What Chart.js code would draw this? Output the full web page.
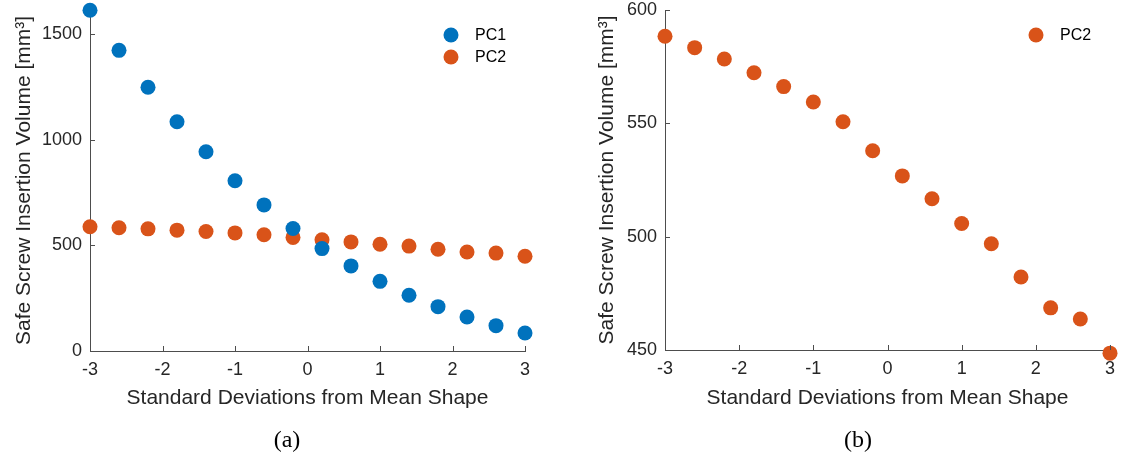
<!DOCTYPE html>
<html>
<head>
<meta charset="utf-8">
<script src="https://cdn.jsdelivr.net/npm/chart.js@4/dist/chart.umd.min.js"></script>
<style>
  html, body { margin: 0; padding: 0; background: #ffffff; }
  body { width: 1121px; height: 460px; position: relative; overflow: hidden; }
  .painel { position: absolute; top: 0; height: 460px; }
  .legenda-fig { position: absolute; top: 426px; font-family: "Liberation Serif", serif; font-size: 24px; color: #000; transform: translateX(-50%); }
</style>
</head>
<body>
<div class="painel" style="left:0; width:560px;"><canvas id="graficoA"></canvas></div>
<div class="painel" style="left:560px; width:561px;"><canvas id="graficoB"></canvas></div>
<div class="legenda-fig" style="left:287px;">(a)</div>
<div class="legenda-fig" style="left:858px;">(b)</div>

<script>
// desvios-padrão a partir da forma média
const desvios = [-3, -2.6, -2.2, -1.8, -1.4, -1, -0.6, -0.2, 0.2, 0.6, 1, 1.4, 1.8, 2.2, 2.6, 3];
// volume seguro de inserção do parafuso [mm³]
const volumePC1 = [1614, 1424, 1249, 1086, 944, 806, 692, 580, 485, 403, 330, 264, 210, 161, 120, 85];
const volumePC2 = [588.4, 583.4, 578.4, 572.3, 566.2, 559.4, 550.7, 537.9, 526.8, 516.7, 505.8, 496.9, 482.2, 468.6, 463.7, 448.6];

const ticksX = [-3, -2, -1, 0, 1, 2, 3];
const ticksYa = [0, 500, 1000, 1500];
const ticksYb = [450, 500, 550, 600];

const AZUL = '#0072BD';
const LARANJA = '#D95319';
const COR_TEXTO = '#262626';
const COR_EIXO = '#4d4d4d';
const FONTE = '"Liberation Sans", Arial, sans-serif';

const pontos = (valores) => desvios.map((x, i) => ({ x: x, y: valores[i] }));

// marcas de escala para dentro (estilo MATLAB)
const marcasInternas = {
    id: 'marcasInternas',
    afterDraw(chart) {
        const { ctx, chartArea } = chart;
        const sx = chart.scales.x, sy = chart.scales.y;
        ctx.save();
        ctx.strokeStyle = COR_EIXO;
        ctx.lineWidth = 1;
        ctx.beginPath();
        sx.ticks.forEach(t => {
            const px = Math.round(sx.getPixelForValue(t.value)) + 0.5;
            ctx.moveTo(px, chartArea.bottom);
            ctx.lineTo(px, chartArea.bottom - 5);
        });
        sy.ticks.forEach(t => {
            const py = Math.round(sy.getPixelForValue(t.value)) + 0.5;
            ctx.moveTo(chartArea.left, py);
            ctx.lineTo(chartArea.left + 5, py);
        });
        ctx.stroke();
        ctx.restore();
    }
};

// legenda dentro da área do gráfico, canto superior direito
const legendaInterna = {
    id: 'legendaInterna',
    afterDraw(chart, args, opts) {
        const { ctx, chartArea } = chart;
        ctx.save();
        ctx.font = '16px ' + FONTE;
        ctx.textBaseline = 'middle';
        ctx.textAlign = 'left';
        chart.data.datasets.forEach((ds, i) => {
            const cx = chartArea.right - opts.dx;
            const cy = chartArea.top + opts.dy + i * 22;
            ctx.fillStyle = ds.backgroundColor;
            ctx.beginPath();
            ctx.arc(cx, cy, 7.5, 0, Math.PI * 2);
            ctx.fill();
            ctx.fillStyle = '#000000';
            ctx.fillText(ds.label, cx + 24, cy + 1);
        });
        ctx.restore();
    }
};

function serie(label, valores, cor) {
    return {
        label: label,
        data: pontos(valores),
        backgroundColor: cor,
        borderColor: cor,
        borderWidth: 0,
        pointRadius: 7.5,
        pointHoverRadius: 7.5,
        showLine: false,
        clip: false
    };
}

function opcoes(yMin, yMax, ticksY, larguraY, padDireita, altX, padTituloY) {
    return {
        responsive: true,
        maintainAspectRatio: false,
        animation: false,
        layout: { padding: { top: 10, right: padDireita, bottom: 0, left: 0 } },
        plugins: {
            legend: { display: false },
            tooltip: { enabled: false },
            legendaInterna: { dx: 74, dy: 25 }
        },
        scales: {
            x: {
                type: 'linear',
                min: -3, max: 3,
                afterBuildTicks: (s) => { s.ticks = ticksX.map(v => ({ value: v })); },
                afterFit: (s) => { s.height = altX; s.paddingLeft = 0; s.paddingRight = 0; },
                grid: { display: false, drawTicks: false },
                border: { display: true, color: COR_EIXO, width: 1 },
                ticks: { color: COR_TEXTO, font: { family: FONTE, size: 18 }, padding: 8, maxRotation: 0,
                         callback: (v) => String(v) },
                title: { display: true, text: 'Standard Deviations from Mean Shape', color: COR_TEXTO,
                         font: { family: FONTE, size: 21 }, padding: { top: 0, bottom: 49 } }
            },
            y: {
                type: 'linear',
                min: yMin, max: yMax,
                afterBuildTicks: (s) => { s.ticks = ticksY.map(v => ({ value: v })); },
                afterFit: (s) => { s.width = larguraY; s.paddingTop = 0; s.paddingBottom = 0; },
                grid: { display: false, drawTicks: false },
                border: { display: true, color: COR_EIXO, width: 1 },
                ticks: { color: COR_TEXTO, font: { family: FONTE, size: 18 }, padding: 8,
                         callback: (v) => String(v) },
                title: { display: true, text: 'Safe Screw Insertion Volume [mm³]', color: COR_TEXTO,
                         font: { family: FONTE, size: 21 }, padding: { top: padTituloY, bottom: 0 } }
            }
        }
    };
}

new Chart(document.getElementById('graficoA'), {
    type: 'scatter',
    data: { datasets: [serie('PC1', volumePC1, AZUL), serie('PC2', volumePC2, LARANJA)] },
    options: opcoes(0, 1615, ticksYa, 90, 35, 109, 12),
    plugins: [marcasInternas, legendaInterna]
});

new Chart(document.getElementById('graficoB'), {
    type: 'scatter',
    data: { datasets: [serie('PC2', volumePC2, LARANJA)] },
    options: opcoes(450, 600, ticksYb, 105, 11, 110, 35),
    plugins: [marcasInternas, legendaInterna]
});
</script>
</body>
</html>
